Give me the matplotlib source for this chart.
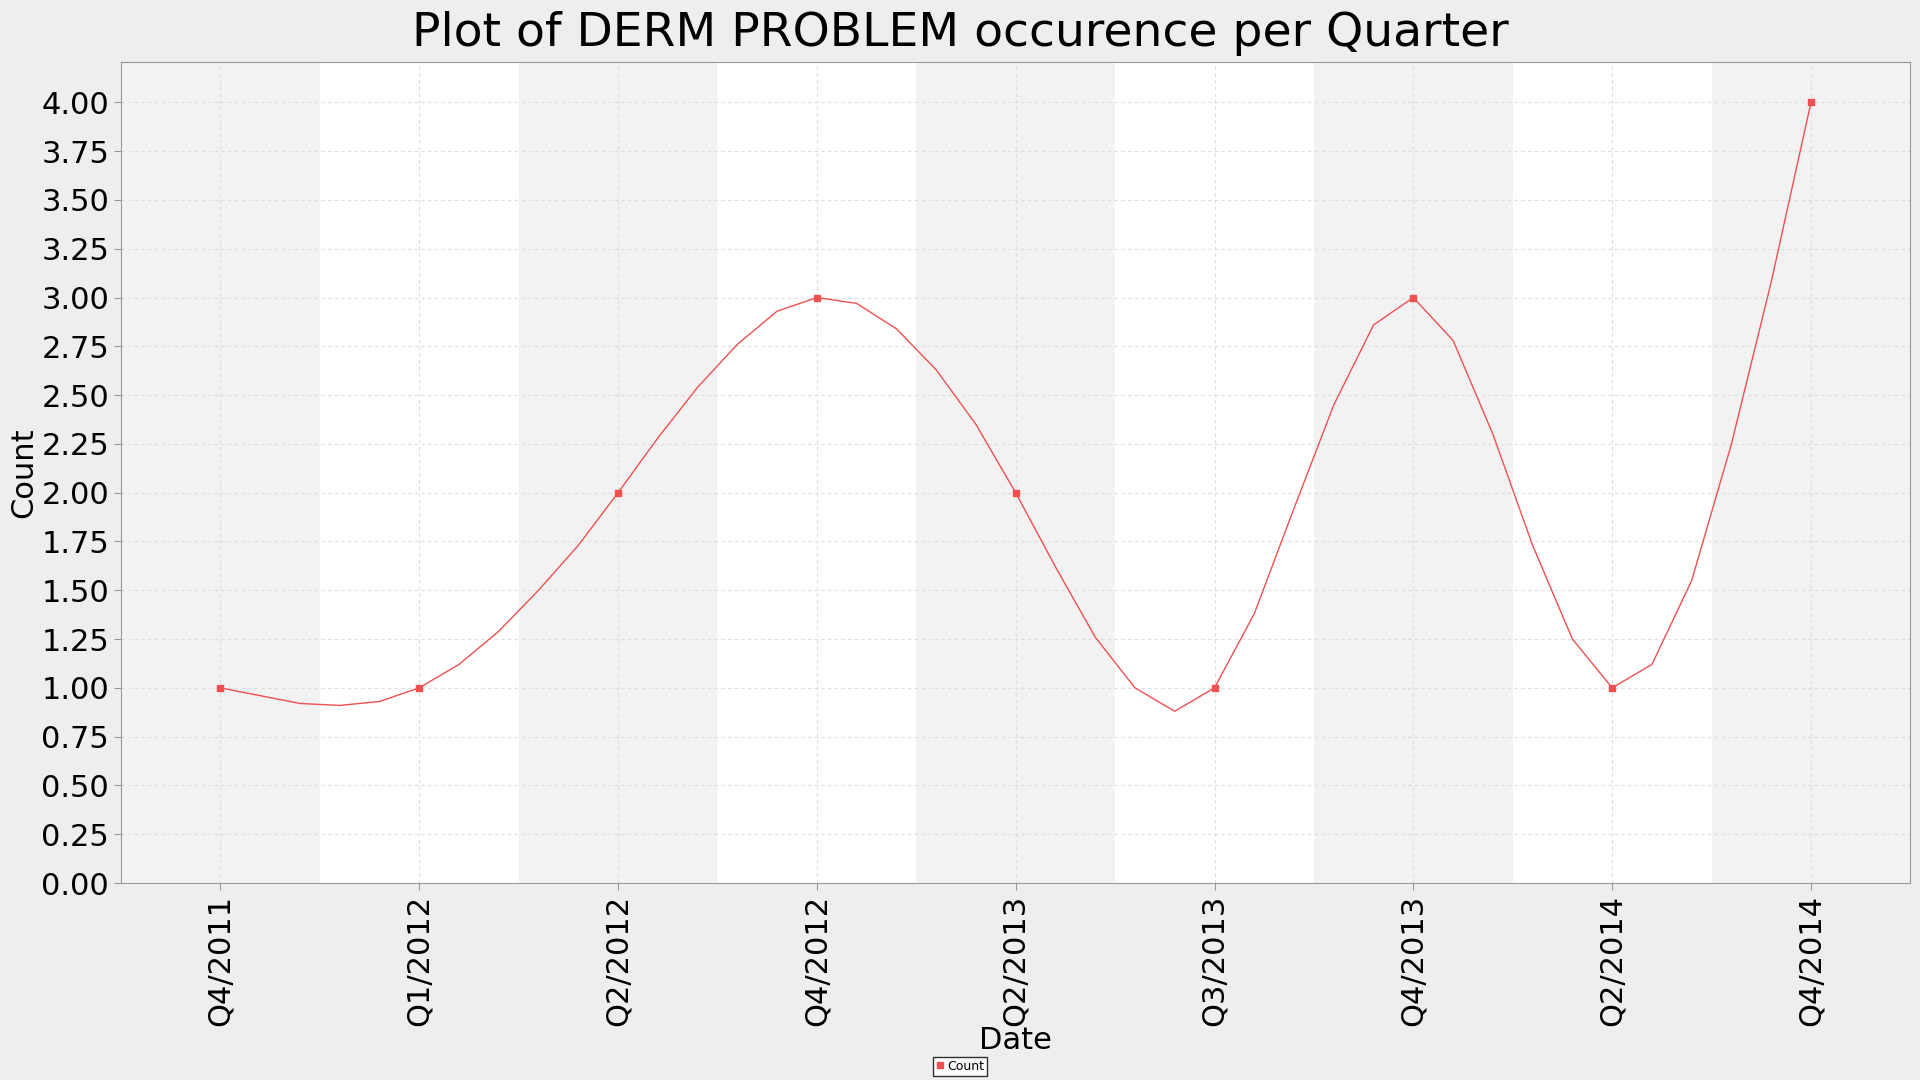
import matplotlib
matplotlib.use("Agg")
import matplotlib.pyplot as plt
import numpy as np

quarters = ["Q4/2011", "Q1/2012", "Q2/2012", "Q4/2012", "Q2/2013",
            "Q3/2013", "Q4/2013", "Q2/2014", "Q4/2014"]
counts = [1, 1, 2, 3, 2, 1, 3, 1, 4]
# smoothed curve as drawn in the reference, 5 steps per quarter
curve = [1.0, 0.96, 0.92, 0.91, 0.93,
         1.0, 1.12, 1.29, 1.50, 1.73,
         2.0, 2.28, 2.54, 2.76, 2.93,
         3.0, 2.97, 2.84, 2.63, 2.35,
         2.0, 1.62, 1.26, 1.0, 0.88,
         1.0, 1.38, 1.92, 2.45, 2.86,
         3.0, 2.78, 2.30, 1.73, 1.25,
         1.0, 1.12, 1.55, 2.25, 3.08,
         4.0]

red = "#f05050"
fig = plt.figure(figsize=(19.2, 10.8), dpi=100, facecolor="#eeeeee")
ax = fig.add_axes([0.063, 0.1824, 0.932, 0.7602])
ax.set_facecolor("white")

x = np.arange(len(quarters))
for i in x:
    if i % 2 == 0:
        ax.axvspan(i - 0.5, i + 0.5, color="#f2f2f2", zorder=0, lw=0)

xc = np.arange(len(curve)) / 5.0
ax.plot(xc, curve, color=red, lw=1.0, zorder=3)
ax.plot(x, counts, ls="none", marker="s", ms=5, color=red, zorder=4, label="Count")

ax.set_xlim(-0.5, len(quarters) - 0.5)
ax.set_ylim(0, 4.207)
ax.set_yticks(np.arange(0, 4.01, 0.25))
ax.set_yticklabels([f"{v:.2f}" for v in np.arange(0, 4.01, 0.25)])
ax.set_xticks(x)
ax.set_xticklabels(quarters, rotation=90)
ax.tick_params(labelsize=22, length=5, color="#999999")
ax.grid(True, color="#dddddd", ls=(0, (3, 3)), lw=0.8)
ax.set_axisbelow(True)
for s in ax.spines.values():
    s.set_color("#999999")
    s.set_linewidth(0.8)

ax.set_xlabel("Date", fontsize=22, labelpad=0)
ax.set_ylabel("Count", fontsize=22, labelpad=2)
fig.suptitle("Plot of DERM PROBLEM occurence per Quarter", fontsize=34, y=0.99)

leg = fig.legend(loc="lower center", bbox_to_anchor=(0.5, -0.002), fontsize=9,
                 frameon=True, fancybox=False, handlelength=0.6,
                 handletextpad=0.3, borderpad=0.25, markerscale=0.8)
leg.get_frame().set_edgecolor("black")

fig.savefig("out.png", dpi=100, facecolor=fig.get_facecolor())
